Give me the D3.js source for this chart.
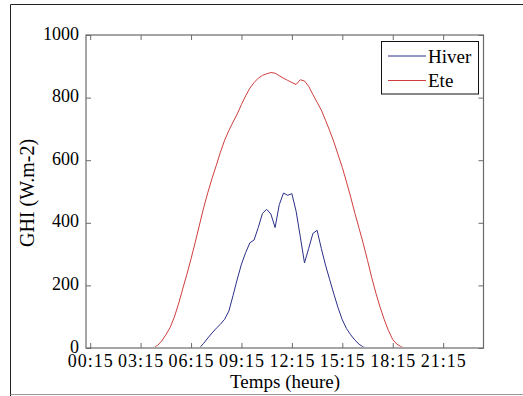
<!DOCTYPE html>
<html><head><meta charset="utf-8">
<script src="https://cdn.jsdelivr.net/npm/d3@7"></script>
<style>
body{margin:0;background:#fff;}
</style></head>
<body><svg id="c" width="523" height="396" font-family="'Liberation Serif', 'DejaVu Serif', serif"></svg>
<script>
// 15-minute samples, 00:15 .. 24:00
const hiver = [
 0,0,0,0,0,0,0,0,0,0,0,0,0,0,0,0,0,0,0,0,0,0,0,0,0,0,0,
 15,32,48,63,76,92,118,168,220,268,305,336,345,385,430,443,428,385,458,495,488,493,437,355,272,318,366,376,318,265,218,172,128,90,62,42,25,12,3,
 0,0,0,0,0,0,0,0,0,0,0,0,0,0,0,0,0,0,0,0,0,0,0,0,0,0,0,0,0,0
];
const ete = [
 0,0,0,0,0,0,0,0,0,0,0,0,0,0,0,0,
 8,22,42,65,98,140,188,235,285,338,393,448,497,542,583,626,664,695,722,748,778,806,830,848,862,871,876,880,878,870,862,855,848,842,857,853,836,810,785,760,728,694,658,617,577,530,482,430,382,333,280,225,175,130,90,55,27,12,4,
 0,0,0,0,0,0,0,0,0,0,0,0,0,0,0,0,0,0,0,0,0
];
const xTickHours = [0.25,3.25,6.25,9.25,12.25,15.25,18.25,21.25];
const xTickLabels = ["00:15","03:15","06:15","09:15","12:15","15:15","18:15","21:15"];
const yTicks = [0,200,400,600,800,1000];
const seriesNames = ["Hiver","Ete"];
const colors = ["#2a2f88","#cf3d3d"];

const FONT = "'Liberation Serif', 'DejaVu Serif', serif";
const svg = d3.select("#c");
const L=86, R=483.5, T=35, B=348;
const x = d3.scaleLinear().domain([0,23.65]).range([L,R]);
const y = d3.scaleLinear().domain([0,1000]).range([B,T]);
const hourOf = i => (i+1)*0.25;

// outer frame
svg.append("line").attr("x1",10.5).attr("x2",10.5).attr("y1",4.5).attr("y2",396).attr("stroke","#222");
svg.append("line").attr("x1",10.5).attr("x2",523).attr("y1",4.5).attr("y2",4.5).attr("stroke","#222");
svg.append("line").attr("x1",10.5).attr("x2",523).attr("y1",394.5).attr("y2",394.5).attr("stroke","#999");

svg.append("defs").append("clipPath").attr("id","clip")
  .append("rect").attr("x",L).attr("y",T).attr("width",R-L).attr("height",B-T-1.2);

const axCol="#6a6a6a";
// lines
const line = d3.line().x((d,i)=>x(hourOf(i))).y(d=>y(d));
const plot = svg.append("g").attr("clip-path","url(#clip)");
[hiver,ete].forEach((s,k)=>{
  plot.append("path").datum(s).attr("d",line).attr("fill","none")
     .attr("stroke",colors[k]).attr("stroke-width",1);
});

// box
svg.append("rect").attr("x",L).attr("y",T).attr("width",R-L).attr("height",B-T)
   .attr("fill","none").attr("stroke",axCol).attr("stroke-width",1.2);

// axes
const gx = svg.append("g").attr("transform",`translate(0,${B})`)
  .call(d3.axisBottom(x).tickValues(xTickHours).tickFormat((d,i)=>xTickLabels[i]).tickSizeInner(-5).tickSizeOuter(0));
gx.select(".domain").remove();
gx.selectAll("line").attr("stroke",axCol);
gx.selectAll("text").attr("font-family",FONT).attr("font-size","18px").attr("letter-spacing","1px")
  .attr("fill","#000").attr("dy",null).attr("y",18.8);
const gxt = svg.append("g").attr("transform",`translate(0,${T})`)
  .call(d3.axisTop(x).tickValues(xTickHours).tickFormat("").tickSizeInner(-5).tickSizeOuter(0));
gxt.select(".domain").remove(); gxt.selectAll("line").attr("stroke",axCol);

const gy = svg.append("g").attr("transform",`translate(${L},0)`)
  .call(d3.axisLeft(y).tickValues(yTicks).tickFormat(d3.format("d")).tickSizeInner(-5).tickSizeOuter(0));
gy.select(".domain").remove();
gy.selectAll("line").attr("stroke",axCol);
gy.selectAll("text").attr("font-family",FONT).attr("font-size","18px").attr("fill","#000")
  .attr("x",-7).attr("dy",null).attr("y",4);
const gyr = svg.append("g").attr("transform",`translate(${R},0)`)
  .call(d3.axisRight(y).tickValues(yTicks).tickFormat("").tickSizeInner(-5).tickSizeOuter(0));
gyr.select(".domain").remove(); gyr.selectAll("line").attr("stroke",axCol);

// axis titles
svg.append("text").attr("x",285).attr("y",388).attr("text-anchor","middle")
   .attr("font-family",FONT).attr("font-size","19px").text("Temps (heure)");
svg.append("text").attr("transform","translate(34,193) rotate(-90)").attr("text-anchor","middle")
   .attr("font-family",FONT).attr("font-size","20px").text("GHI (W.m-2)");

// legend
const lg = svg.append("g");
lg.append("rect").attr("x",381.5).attr("y",41.5).attr("width",97).attr("height",52.5)
  .attr("fill","#fff").attr("stroke","#111").attr("stroke-width",1);
seriesNames.forEach((n,k)=>{
  const yy = 56 + k*24.5;
  lg.append("line").attr("x1",388).attr("x2",426).attr("y1",yy).attr("y2",yy)
    .attr("stroke",colors[k]).attr("stroke-width",1);
  lg.append("text").attr("x",428).attr("y",yy+6.5).attr("font-family",FONT).attr("font-size","19px").text(n);
});
</script></body></html>
